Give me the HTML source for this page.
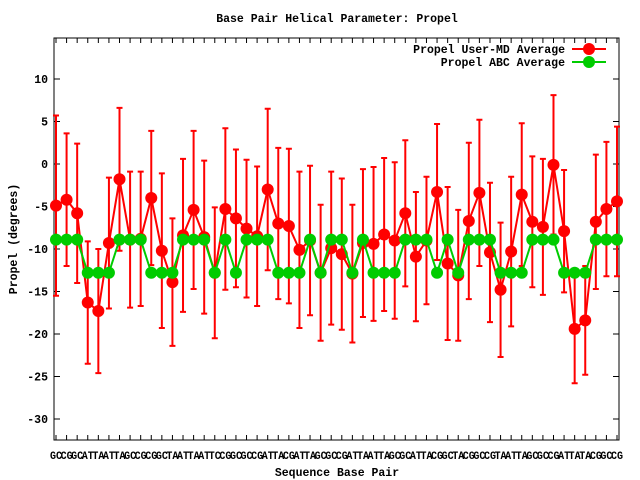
<!DOCTYPE html>
<html><head><meta charset="utf-8"><style>
body{margin:0;background:#fff}
svg{display:block;font-family:"Liberation Mono",monospace;font-weight:bold}
</style></head><body>
<svg id="chart" width="640" height="480" xmlns="http://www.w3.org/2000/svg">
<rect x="0" y="0" width="640" height="480" fill="#fff"/>
<text x="337" y="22" text-anchor="middle" font-size="11.5">Base Pair Helical Parameter: Propel</text>
<text x="337" y="476" text-anchor="middle" font-size="11.5">Sequence Base Pair</text>
<text transform="translate(17,239) rotate(-90)" text-anchor="middle" font-size="11.5">Propel (degrees)</text>
<g id="grid"></g>
<g id="marks"></g>
<g>
<text x="565" y="53" text-anchor="end" font-size="11.5">Propel User-MD Average</text>
<line x1="572" y1="49" x2="606" y2="49" stroke="#f00" stroke-width="2"/>
<circle cx="589" cy="49" r="6" fill="#f00"/>
<text x="565" y="66" text-anchor="end" font-size="11.5">Propel ABC Average</text>
<line x1="572" y1="62" x2="606" y2="62" stroke="#0c0" stroke-width="2"/>
<circle cx="589" cy="62" r="6" fill="#0c0"/>
</g>
</svg>
<script>
const categories=["GC","CG","GC","AT","TA","AT","TA","GC","CG","CG","GC","TA","AT","TA","AT","TC","CG","GC","GC","CG","AT","TA","CG","AT","TA","GC","GC","CG","AT","TA","AT","TA","GC","GC","AT","TA","CG","GC","TA","CG","GC","CG","TA","AT","TA","GC","GC","CG","AT","TA","TA","CG","GC","CG"];
const userMD=[-4.9,-4.2,-5.8,-16.3,-17.3,-9.3,-1.8,-8.9,-8.8,-4.0,-10.2,-13.9,-8.4,-5.4,-8.6,-12.8,-5.3,-6.4,-7.6,-8.5,-3.0,-7.0,-7.3,-10.1,-9.0,-12.8,-9.9,-10.6,-12.9,-9.3,-9.4,-8.3,-9.0,-5.8,-10.9,-9.0,-3.3,-11.7,-13.1,-6.7,-3.4,-10.4,-14.8,-10.3,-3.6,-6.8,-7.4,-0.1,-7.9,-19.4,-18.4,-6.8,-5.3,-4.4];
const userMDErr=[10.6,7.8,8.2,7.2,7.3,7.7,8.4,8.0,7.9,7.9,9.1,7.5,9.0,9.3,9.0,7.7,9.5,8.1,8.1,8.2,9.5,8.9,9.1,9.2,8.8,8.0,9.0,8.9,8.1,8.7,9.05,9.0,9.2,8.6,7.6,7.5,8.0,9.0,7.7,9.2,8.6,8.2,7.9,8.8,8.4,7.7,8.0,8.2,7.2,6.4,6.4,7.9,7.9,8.8];
const abc=[-8.9,-8.9,-8.9,-12.8,-12.8,-12.8,-8.9,-8.9,-8.9,-12.8,-12.8,-12.8,-8.9,-8.9,-8.9,-12.8,-8.9,-12.8,-8.9,-8.9,-8.9,-12.8,-12.8,-12.8,-8.9,-12.8,-8.9,-8.9,-12.8,-8.9,-12.8,-12.8,-12.8,-8.9,-8.9,-8.9,-12.8,-8.9,-12.8,-8.9,-8.9,-8.9,-12.8,-12.8,-12.8,-8.9,-8.9,-8.9,-12.8,-12.8,-12.8,-8.9,-8.9,-8.9];
const yTicks=[10,5,0,-5,-10,-15,-20,-25,-30];
const NS="http://www.w3.org/2000/svg";
const L=54,R=619,T=38,B=440;
function xs(i){return 56+i*(561/(categories.length-1));}
function ys(v){return 164-8.5*v;}
function mk(tag,attrs,parent){const e=document.createElementNS(NS,tag);for(const k in attrs)e.setAttribute(k,attrs[k]);parent.appendChild(e);return e;}
const grid=document.getElementById('grid'),marks=document.getElementById('marks');
let fr=mk('rect',{x:L,y:T,width:R-L,height:B-T,fill:'none',stroke:'#000','stroke-width':1},grid);


yTicks.forEach(v=>{const y=ys(v);
 let t=mk('line',{x1:L,y1:y,x2:L+6,y2:y,stroke:'#000'},grid);
 
 
 let t2=mk('line',{x1:R-6,y1:y,x2:R,y2:y,stroke:'#000'},grid);
 
 
 let tx=mk('text',{x:48,y:y+4,'text-anchor':'end','font-size':'11.5'},grid);tx.textContent=v;
 
 
});
categories.forEach((c,i)=>{const x=xs(i);
 let t=mk('line',{x1:x,y1:B,x2:x,y2:B-5,stroke:'#000'},grid);
 
 
 let t2=mk('line',{x1:x,y1:T,x2:x,y2:T+5,stroke:'#000'},grid);
 
 
 let tx=mk('text',{x:x,y:459,'text-anchor':'middle','font-size':'11','textLength':'12','lengthAdjust':'spacingAndGlyphs'},grid);tx.textContent=c;
 
 
});
// red error bars + line
userMD.forEach((v,i)=>{const x=xs(i),y1=ys(v+userMDErr[i]),y2=ys(v-userMDErr[i]);
 let g=mk('path',{d:`M${x},${y1}V${y2}M${x-3},${y1}H${x+3}M${x-3},${y2}H${x+3}`,stroke:'#f00','stroke-width':2,fill:'none'},marks);
 
 
});
let rl=mk('polyline',{points:userMD.map((v,i)=>xs(i)+','+ys(v)).join(' '),fill:'none',stroke:'#f00','stroke-width':2},marks);


userMD.forEach((v,i)=>{let c=mk('circle',{cx:xs(i),cy:ys(v),r:6,fill:'#f00'},marks);
 
 });
let gl=mk('polyline',{points:abc.map((v,i)=>xs(i)+','+ys(v)).join(' '),fill:'none',stroke:'#0c0','stroke-width':2},marks);


abc.forEach((v,i)=>{let c=mk('circle',{cx:xs(i),cy:ys(v),r:6,fill:'#0c0'},marks);
 
 });
</script>
</body></html>
